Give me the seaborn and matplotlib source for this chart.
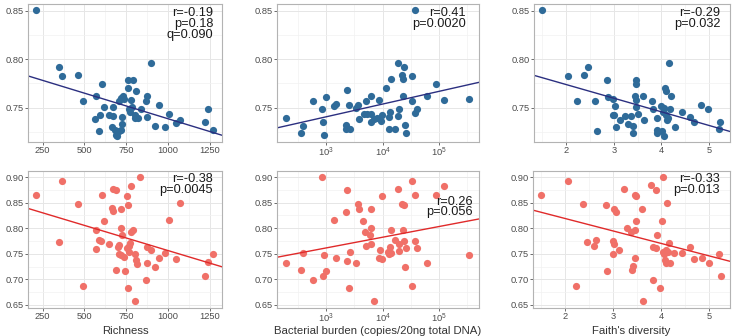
import matplotlib
matplotlib.use("Agg")
import matplotlib.pyplot as plt
import numpy as np
import seaborn as sns
from matplotlib.ticker import FixedLocator, FormatStrFormatter, LogFormatterMathtext

# ---- data ----
# top row (blue)
richness_top = [210, 349, 367, 462, 492, 603, 569, 565, 595, 587, 617, 645, 669, 673, 667,
                685, 690, 696, 704, 708, 718, 728, 738, 722, 726, 716, 758, 792, 758, 776,
                768, 772, 786, 802, 810, 800, 817, 835, 865, 871, 873, 899, 943, 919, 980,
                1004, 1044, 1071, 1222, 1240, 1268]
richness_top_y = [0.851, 0.792, 0.783, 0.784, 0.757, 0.774, 0.762, 0.738, 0.742, 0.726,
                  0.751, 0.742, 0.751, 0.741, 0.730, 0.727, 0.722, 0.721, 0.726, 0.757,
                  0.760, 0.762, 0.759, 0.733, 0.740, 0.727, 0.778, 0.778, 0.770, 0.758,
                  0.748, 0.745, 0.751, 0.742, 0.767, 0.739, 0.739, 0.748, 0.757, 0.762,
                  0.740, 0.796, 0.753, 0.731, 0.730, 0.743, 0.734, 0.737, 0.735, 0.749, 0.727]

log_burden_top = [2.292, 2.552, 2.593, 2.770, 2.917, 2.935, 2.953, 2.994, 3.142, 3.165,
                  3.372, 3.395, 3.342, 3.354, 3.425, 3.525, 3.566, 3.578, 3.661, 3.702,
                  3.726, 3.796, 3.802, 3.802, 3.838, 3.897, 3.932, 3.973, 3.991, 4.056,
                  4.109, 4.115, 4.133, 4.145, 4.221, 4.268, 4.286, 4.274, 4.339, 4.357,
                  4.369, 4.381, 4.398, 4.410, 4.522, 4.522, 4.581, 4.575, 4.605, 4.788,
                  4.953, 5.089, 5.537]
burden_top_y = [0.739, 0.7235, 0.7305, 0.757, 0.748, 0.7355, 0.722, 0.761, 0.7515, 0.7535,
                0.768, 0.7525, 0.7315, 0.7275, 0.7275, 0.750, 0.7525, 0.738, 0.743, 0.757,
                0.743, 0.743, 0.762, 0.735, 0.738, 0.739, 0.758, 0.736, 0.7425, 0.7705,
                0.7275, 0.740, 0.745, 0.779, 0.7275, 0.741, 0.7485, 0.7965, 0.784, 0.762,
                0.779, 0.792, 0.7315, 0.724, 0.783, 0.757, 0.851, 0.744, 0.748, 0.762,
                0.774, 0.758, 0.759]

faith_top = [1.501, 2.042, 2.232, 2.372, 2.457, 2.604, 2.647, 2.858, 2.881, 2.986,
             3.021, 2.986, 3.014, 3.056, 3.126, 3.246, 3.295, 3.372, 3.408, 3.394,
             3.464, 3.464, 3.450, 3.457, 3.471, 3.499, 3.619, 3.640, 3.801, 3.829,
             3.905, 3.905, 3.905, 3.982, 4.018, 4.039, 4.053, 4.060, 4.081, 4.095,
             4.095, 4.110, 4.131, 4.152, 4.180, 4.201, 4.278, 4.440, 4.594, 4.679,
             4.840, 4.980, 5.212, 5.240]
faith_top_y = [0.851, 0.783, 0.757, 0.784, 0.792, 0.757, 0.726, 0.778, 0.761, 0.759,
               0.752, 0.742, 0.742, 0.730, 0.7375, 0.741, 0.7335, 0.741, 0.731, 0.7235,
               0.778, 0.774, 0.762, 0.758, 0.751, 0.743, 0.762, 0.7375, 0.757, 0.748,
               0.7265, 0.724, 0.739, 0.752, 0.726, 0.745, 0.721, 0.750, 0.770, 0.767,
               0.742, 0.737, 0.739, 0.796, 0.749, 0.762, 0.730, 0.745, 0.740, 0.735,
               0.753, 0.749, 0.7275, 0.735]

# bottom row (red)
richness_bot = [210, 349, 367, 462, 492, 567, 569, 587, 599, 603, 617, 645, 669, 690, 667,
                669, 688, 704, 706, 702, 718, 722, 718, 716, 736, 740, 752, 760, 756, 766,
                768, 772, 780, 760, 778, 792, 804, 808, 814, 800, 833, 865, 873, 871, 897,
                921, 943, 980, 1004, 1044, 1071, 1222, 1240, 1268]
richness_bot_y = [0.865, 0.774, 0.893, 0.847, 0.688, 0.759, 0.796, 0.777, 0.775, 0.866,
                  0.815, 0.770, 0.876, 0.874, 0.840, 0.834, 0.719, 0.767, 0.749, 0.763,
                  0.800, 0.786, 0.838, 0.748, 0.744, 0.717, 0.863, 0.845, 0.762, 0.766,
                  0.753, 0.771, 0.883, 0.684, 0.792, 0.797, 0.750, 0.737, 0.731, 0.657,
                  0.900, 0.699, 0.733, 0.763, 0.757, 0.725, 0.741, 0.751, 0.816, 0.739,
                  0.849, 0.706, 0.734, 0.750]

log_burden_bot = [2.292, 2.552, 2.593, 2.770, 2.917, 2.953, 2.935, 2.994, 3.142, 3.165,
                  3.348, 3.366, 3.372, 3.395, 3.425, 3.525, 3.566, 3.572, 3.649, 3.690,
                  3.696, 3.779, 3.802, 3.796, 3.790, 3.844, 3.932, 3.956, 3.985, 3.991,
                  4.086, 4.109, 4.133, 4.145, 4.150, 4.215, 4.274, 4.286, 4.292, 4.351,
                  4.357, 4.381, 4.387, 4.404, 4.416, 4.522, 4.522, 4.575, 4.581, 4.605,
                  4.788, 4.953, 5.089, 5.537]
burden_bot_y = [0.732, 0.719, 0.751, 0.699, 0.900, 0.748, 0.706, 0.717, 0.816, 0.741,
                0.832, 0.874, 0.736, 0.684, 0.753, 0.733, 0.848, 0.838, 0.814, 0.793,
                0.766, 0.786, 0.838, 0.800, 0.770, 0.657, 0.742, 0.757, 0.863, 0.739,
                0.753, 0.749, 0.763, 0.796, 0.751, 0.777, 0.876, 0.755, 0.770, 0.847,
                0.796, 0.846, 0.775, 0.725, 0.761, 0.893, 0.688, 0.865, 0.776, 0.762,
                0.733, 0.866, 0.883, 0.748]

faith_bot = [1.501, 2.049, 2.232, 2.372, 2.457, 2.604, 2.647, 2.858, 2.879, 2.986,
             2.986, 3.014, 3.021, 3.056, 3.126, 3.232, 3.288, 3.380, 3.394, 3.408,
             3.450, 3.464, 3.485, 3.478, 3.464, 3.605, 3.633, 3.794, 3.822, 3.836,
             3.900, 3.900, 3.920, 3.977, 4.025, 4.032, 4.046, 4.060, 4.081, 4.095,
             4.110, 4.124, 4.152, 4.173, 4.194, 4.271, 4.440, 4.602, 4.693, 4.854,
             4.994, 5.212, 5.254]
faith_bot_y = [0.865, 0.893, 0.688, 0.847, 0.774, 0.766, 0.777, 0.845, 0.717, 0.749,
               0.776, 0.770, 0.838, 0.832, 0.757, 0.876, 0.800, 0.792, 0.719, 0.726,
               0.742, 0.866, 0.864, 0.815, 0.797, 0.838, 0.657, 0.884, 0.699, 0.763,
               0.874, 0.762, 0.786, 0.684, 0.815, 0.753, 0.900, 0.749, 0.737, 0.758,
               0.733, 0.849, 0.753, 0.771, 0.733, 0.751, 0.751, 0.763, 0.739, 0.742,
               0.733, 0.750, 0.706]

stats_text = [
    "r=-0.19\np=0.18\nq=0.090", "r=0.41\np=0.0020", "r=-0.29\np=0.032",
    "r=-0.38\np=0.0045", "r=0.26\np=0.056", "r=-0.33\np=0.013",
]
x_labels = ["Richness", "Bacterial burden (copies/20ng total DNA)", "Faith's diversity"]

# ---- styling ----
FIG_W, FIG_H = 732, 336
TOP_DOT, TOP_LINE = "#2f6b99", "#2b2f80"
BOT_DOT, BOT_LINE = "#f07068", "#e02a2a"

sns.set_theme(style="whitegrid")
plt.rcParams["font.family"] = ["Liberation Sans", "DejaVu Sans"]
plt.rcParams["mathtext.fontset"] = "custom"
plt.rcParams["mathtext.rm"] = "Liberation Sans"


def px_axes(fig, left, top, right, bottom):
    return fig.add_axes([left / FIG_W, 1 - bottom / FIG_H,
                         (right - left) / FIG_W, (bottom - top) / FIG_H])


fig = plt.figure(figsize=(FIG_W / 100, FIG_H / 100), dpi=100)
fig.patch.set_facecolor("white")

boxes = [
    (28, 4, 222, 142), (277, 4, 479, 142), (534, 4, 730, 142),
    (28, 171, 222, 308), (277, 171, 479, 308), (533, 171, 730, 308),
]
panels = [
    (np.array(richness_top), richness_top_y, False),
    (10 ** np.array(log_burden_top), burden_top_y, True),
    (np.array(faith_top), faith_top_y, False),
    (np.array(richness_bot), richness_bot_y, False),
    (10 ** np.array(log_burden_bot), burden_bot_y, True),
    (np.array(faith_bot), faith_bot_y, False),
]
xlims = [(163, 1321), (10 ** 2.127, 10 ** 5.708), (1.325, 5.44)] * 2
ylims = [(0.7144, 0.857)] * 3 + [(0.644, 0.912)] * 3
# text anchor (right, top) in axes fraction
text_pos = [(0.955, 0.975), (0.935, 0.975), (0.95, 0.975),
            (0.955, 0.985), (0.97, 0.82), (0.95, 0.985)]

for i, ((x, y, logx), box) in enumerate(zip(panels, boxes)):
    ax = px_axes(fig, *box)
    top = i < 3
    dot, line = (TOP_DOT, TOP_LINE) if top else (BOT_DOT, BOT_LINE)
    if logx:
        ax.set_xscale("log")
    ax.set_xlim(*xlims[i])
    ax.set_ylim(*ylims[i])
    sns.regplot(x=x, y=y, ax=ax, ci=None, logx=logx, truncate=False,
                scatter_kws={"s": 27, "color": dot, "linewidths": 0, "alpha": 1},
                line_kws={"color": line, "lw": 1.0})
    ax.set_xlim(*xlims[i])
    ax.set_ylim(*ylims[i])

    # ticks and grid, ggplot-like
    if logx:
        ax.xaxis.set_major_locator(FixedLocator([1e3, 1e4, 1e5]))
        ax.xaxis.set_major_formatter(LogFormatterMathtext())
        ax.xaxis.set_minor_locator(FixedLocator([10 ** 2.5, 10 ** 3.5, 10 ** 4.5, 10 ** 5.5]))
    elif i % 3 == 0:
        ax.xaxis.set_major_locator(FixedLocator([250, 500, 750, 1000, 1250]))
        ax.xaxis.set_minor_locator(FixedLocator([375, 625, 875, 1125]))
    else:
        ax.xaxis.set_major_locator(FixedLocator([2, 3, 4, 5]))
        ax.xaxis.set_minor_locator(FixedLocator([1.5, 2.5, 3.5, 4.5]))
    if top:
        ax.yaxis.set_major_locator(FixedLocator([0.75, 0.80, 0.85]))
        ax.yaxis.set_minor_locator(FixedLocator([0.725, 0.775, 0.825]))
    else:
        ax.yaxis.set_major_locator(FixedLocator([0.65, 0.70, 0.75, 0.80, 0.85, 0.90]))
        ax.yaxis.set_minor_locator(FixedLocator([0.675, 0.725, 0.775, 0.825, 0.875]))
    ax.yaxis.set_major_formatter(FormatStrFormatter("%.2f"))

    ax.grid(True, which="major", color="#e6e6e6", lw=0.7)
    ax.grid(True, which="minor", color="#f2f2f2", lw=0.5)
    ax.set_axisbelow(True)
    ax.tick_params(which="major", length=2, width=0.6, color="#555555",
                   labelsize=6.7, labelcolor="#4d4d4d", pad=1)
    ax.tick_params(which="minor", length=0)
    ax.tick_params(axis="x", bottom=True)
    ax.tick_params(axis="y", left=True)
    for sp in ax.spines.values():
        sp.set_color("#b3b3b3")
        sp.set_linewidth(0.8)

    ax.text(text_pos[i][0], text_pos[i][1], stats_text[i], transform=ax.transAxes,
            ha="right", va="top", fontsize=9.2, color="#1a1a1a", linespacing=0.85)

    ax.set_xlabel("")
    ax.set_ylabel("")
    if not top:
        # x title placed at a fixed baseline so it stays inside the canvas
        cx = (box[0] + box[2]) / 2 / FIG_W
        fig.text(cx, 2.5 / FIG_H, x_labels[i - 3], ha="center", va="baseline",
                 fontsize=8.2, color="#333333")

fig.savefig("out.png", dpi=100, facecolor="white")
